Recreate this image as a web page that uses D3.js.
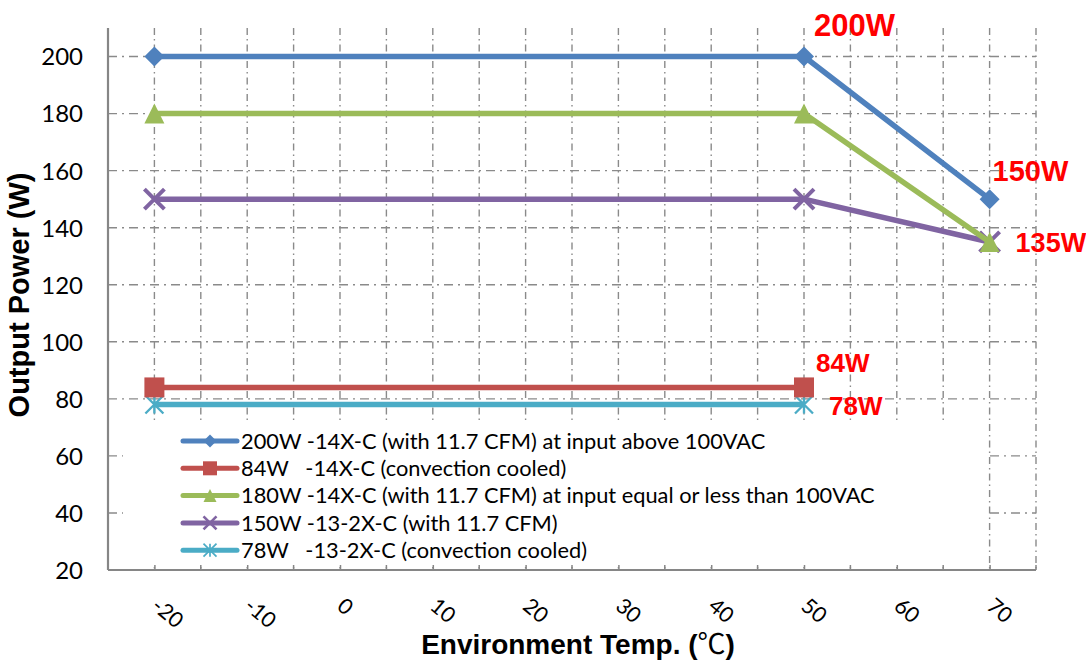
<!DOCTYPE html>
<html><head><meta charset="utf-8">
<script src="https://cdn.jsdelivr.net/npm/d3@7"></script>
<style>
html,body{margin:0;padding:0;background:#fff;}
svg{display:block;}
text{white-space:pre;}
</style></head>
<body>
<svg id="chart" width="1086" height="667"></svg>
<script>
// ---- data ----
const temps = [-20, 50, 70];
const seriesNames = [
  "200W -14X-C (with 11.7 CFM) at input above 100VAC",
  "84W   -14X-C (convection cooled)",
  "180W -14X-C (with 11.7 CFM) at input equal or less than 100VAC",
  "150W -13-2X-C (with 11.7 CFM)",
  "78W   -13-2X-C (convection cooled)"
];
const s200 = [200, 200, 150];
const s84 = [84, 84];
const s180 = [180, 180, 135];
const s150 = [150, 150, 135];
const s78 = [78, 78];
const xTicks = [-20, -10, 0, 10, 20, 30, 40, 50, 60, 70];
const yTicks = [20, 40, 60, 80, 100, 120, 140, 160, 180, 200];
const noteTexts = ["200W", "150W", "135W", "84W", "78W"];
const noteTemps = [50, 70, 70, 50, 50];
const noteValues = [200, 150, 135, 84, 78];

// ---- styles ----
const colors = ["#4F81BD", "#C0504D", "#9BBB59", "#8064A2", "#4BACC6"];
const markers = ["diamond", "square", "triangle", "x", "star"];
const seriesVals = [s200, s84, s180, s150, s78];

const svg = d3.select("#chart");
const L = 108, R = 1036, T = 28, B = 570;
const x = d3.scaleLinear().domain([-25, 75]).range([L, R]);
const y = d3.scaleLinear().domain([20, 210]).range([B, T]);

const gridColor = "#8a8a8a";
// vertical gridlines every 5
const vGrid = d3.range(-20, 76, 5);
svg.append("g").selectAll("line").data(vGrid).join("line")
  .attr("x1", d => x(d)).attr("x2", d => x(d))
  .attr("y1", T).attr("y2", B)
  .attr("stroke", gridColor).attr("stroke-width", 1.4)
  .attr("stroke-dasharray", "7,4,1.5,4");
// horizontal gridlines
svg.append("g").selectAll("line").data(yTicks.filter(d => d > 20)).join("line")
  .attr("x1", L).attr("x2", R)
  .attr("y1", d => y(d)).attr("y2", d => y(d))
  .attr("stroke", gridColor).attr("stroke-width", 1.4)
  .attr("stroke-dasharray", "9,5,2,5");

// axes
const axisColor = "#868686";
const yAxis = d3.axisLeft(y).tickValues(yTicks).tickSize(0).tickPadding(25);
const gy = svg.append("g").attr("transform", `translate(${L},0)`).call(yAxis);
gy.select(".domain").attr("stroke", axisColor).attr("stroke-width", 2.2)
  .attr("d", `M0,${T}V${B}`);
gy.selectAll("text").attr("font-family", "Lato, 'Open Sans', sans-serif")
  .attr("font-size", 24).attr("fill", "#000").attr("x", -25).attr("dy", "0.35em");

const xAxis = d3.axisBottom(x).tickValues(xTicks).tickSize(-5).tickFormat("");
const gx = svg.append("g").attr("transform", `translate(0,${B})`).call(xAxis);
gx.select(".domain").attr("stroke", axisColor).attr("stroke-width", 2.2)
  .attr("d", `M${L},0H${R}`);
gx.selectAll(".tick line").attr("stroke", axisColor).attr("stroke-width", 1.5);
// minor ticks
svg.append("g").selectAll("line").data(xTicks.map(d => d + 5)).join("line")
  .attr("x1", d => x(d)).attr("x2", d => x(d))
  .attr("y1", B).attr("y2", B - 5)
  .attr("stroke", axisColor).attr("stroke-width", 1.5);
// rotated x labels
svg.append("g").selectAll("text").data(xTicks).join("text")
  .attr("transform", d => `translate(${x(d) + 1},${B + 32}) rotate(40)`)
  .attr("font-family", "Lato, 'Open Sans', sans-serif").attr("font-size", 21.5)
  .attr("dominant-baseline", "central").attr("fill", "#000")
  .text(d => d);

// axis titles
svg.append("text").attr("transform", `translate(29,295) rotate(-90)`)
  .attr("text-anchor", "middle").attr("font-family", "'Liberation Sans Narrow', 'Liberation Sans', Arial, sans-serif")
  .attr("font-weight", "bold").attr("font-size", 29).text("Output Power (W)");
const xt = svg.append("text").attr("x", 578).attr("y", 654)
  .attr("text-anchor", "middle").attr("font-family", "'Liberation Sans Narrow', 'Liberation Sans', Arial, sans-serif")
  .attr("font-weight", "bold").attr("font-size", 28);
xt.append("tspan").text("Environment Temp. (");
xt.append("tspan").attr("font-family", "'Noto Sans CJK SC', sans-serif").attr("font-weight", "normal").text("℃");
xt.append("tspan").text(")");

// marker drawing
function drawMarker(g, type, color, s) {
  const h = s / 2;
  if (type === "diamond") {
    g.append("path").attr("d", `M0,${-h}L${h},0L0,${h}L${-h},0Z`).attr("fill", color);
  } else if (type === "square") {
    g.append("rect").attr("x", -h).attr("y", -h).attr("width", s).attr("height", s).attr("fill", color);
  } else if (type === "triangle") {
    g.append("path").attr("d", `M0,${-h}L${h},${h}L${-h},${h}Z`).attr("fill", color);
  } else if (type === "x") {
    g.append("path").attr("d", `M${-h},${-h}L${h},${h}M${h},${-h}L${-h},${h}`)
      .attr("stroke", color).attr("stroke-width", s * 0.2).attr("fill", "none");
  } else if (type === "star") {
    g.append("path").attr("d", `M${-h},${-h}L${h},${h}M${h},${-h}L${-h},${h}M0,${-h}V${h}`)
      .attr("stroke", color).attr("stroke-width", s * 0.13).attr("fill", "none");
  }
}

// series lines
const line = d3.line().x(d => x(d[0])).y(d => y(d[1]));
const order = [4, 1, 3, 2, 0];
order.forEach(i => {
  const pts = seriesVals[i].map((v, j) => [temps[j], v]);
  const g = svg.append("g");
  g.append("path").attr("d", line(pts)).attr("fill", "none")
    .attr("stroke", colors[i]).attr("stroke-width", 5.5).attr("stroke-linejoin", "round");
  pts.forEach(p => {
    const m = g.append("g").attr("transform", `translate(${x(p[0])},${y(p[1])})`);
    drawMarker(m, markers[i], colors[i], markers[i] === "star" ? 18 : 20);
  });
});

// legend
const lg = svg.append("g");
lg.append("rect").attr("x", 123).attr("y", 423).attr("width", 864).attr("height", 140).attr("fill", "#fff");
const rowY = d3.range(5).map(i => 441 + i * 27.3);
const legendTexts = [];
seriesNames.forEach((name, i) => {
  const g = lg.append("g").attr("transform", `translate(0,${rowY[i]})`);
  g.append("line").attr("x1", 183).attr("x2", 237).attr("y1", 0).attr("y2", 0)
    .attr("stroke", colors[i]).attr("stroke-width", 5).attr("stroke-linecap", "round");
  const m = g.append("g").attr("transform", "translate(210,0)");
  drawMarker(m, markers[i], colors[i], markers[i] === "square" ? 14 : 13);
  legendTexts.push(g.append("text").attr("x", 241).attr("y", 0).attr("dy", "0.36em")
    .attr("font-family", "Lato, 'Open Sans', sans-serif").attr("font-size", 20)
    .attr("fill", "#000").text(name));
});
// fit legend font to the reference width of the longest entry
const longest = legendTexts[2].node().getComputedTextLength();
const fs = 20 * 634 / longest;
legendTexts.forEach(t => t.attr("font-size", fs));

// red annotations
const noteDx = [10, 3, 26, 12, 25];
const noteDy = [-21, -18, 10, -15, 10];
const noteSize = [31, 29, 27, 26, 26];
noteTexts.forEach((t, i) => {
  svg.append("text").attr("x", x(noteTemps[i]) + noteDx[i]).attr("y", y(noteValues[i]) + noteDy[i])
    .attr("font-family", "'Liberation Sans', Arial, sans-serif").attr("font-weight", "bold")
    .attr("font-size", noteSize[i]).attr("fill", "#FF0000").text(t);
});
</script>
</body></html>
